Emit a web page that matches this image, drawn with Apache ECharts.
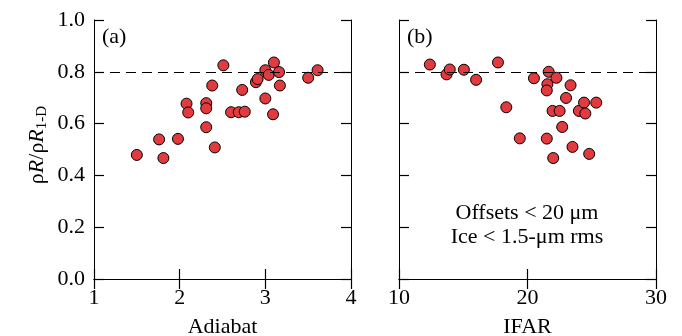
<!DOCTYPE html>
<html>
<head>
<meta charset="utf-8">
<script src="https://cdn.jsdelivr.net/npm/echarts@6/dist/echarts.min.js"></script>
<style>
  html, body { margin: 0; padding: 0; background: #fff; }
  #chart { width: 682px; height: 336px; }
</style>
</head>
<body>
<div id="chart"></div>
<script>
// panel (a): adiabat vs rhoR ratio
const adiabatX = [1.50, 1.76, 1.81, 1.98, 2.08, 2.10, 2.31, 2.31, 2.31, 2.38, 2.41, 2.51, 2.60, 2.69,
  2.76, 2.73, 2.89, 2.91, 3.00, 3.00, 3.04, 3.10, 3.09, 3.16, 3.17, 3.50, 3.61];
const adiabatY = [0.479, 0.539, 0.467, 0.541, 0.677, 0.643, 0.679, 0.659, 0.586, 0.747, 0.508, 0.825, 0.644, 0.644,
  0.646, 0.730, 0.760, 0.772, 0.806, 0.697, 0.788, 0.836, 0.636, 0.799, 0.747, 0.777, 0.806];

// panel (b): IFAR vs rhoR ratio
const ifarX = [12.4, 13.7, 13.95, 15.05, 16.0, 17.7, 18.35, 19.4, 20.5, 21.5, 21.55, 21.5, 21.65,
  21.95, 22.0, 22.25, 22.5, 22.7, 23.0, 23.35, 23.5, 24.0, 24.4, 24.5, 24.8, 25.35];
const ifarY = [0.828, 0.790, 0.809, 0.808, 0.769, 0.836, 0.663, 0.543, 0.775, 0.542, 0.752, 0.728, 0.800,
  0.649, 0.467, 0.777, 0.649, 0.587, 0.699, 0.748, 0.510, 0.649, 0.681, 0.639, 0.483, 0.681];

const refLevel = 0.8;
const yTickLabels = ['0.0', '0.2', '0.4', '0.6', '0.8', '1.0'];

const FONT = 'Liberation Serif';
const pair = (xs, ys) => xs.map((x, i) => [x, ys[i]]);

const chart = echarts.init(document.getElementById('chart'));

function xAx(grid, min, max, step, name, top) {
  return {
    type: 'value', gridIndex: grid, min: min, max: max, interval: step,
    position: top ? 'top' : 'bottom',
    name: top ? '' : name, nameLocation: 'middle', nameGap: 37,
    nameTextStyle: { fontFamily: FONT, fontSize: 22, color: '#000' },
    axisLine: { show: true, lineStyle: { color: '#000', width: 1 } },
    axisTick: { show: true, inside: true, length: 10, lineStyle: { color: '#000', width: 1.2 } },
    axisLabel: { show: !top, fontFamily: FONT, fontSize: 22, color: '#000', margin: 8 },
    splitLine: { show: false }
  };
}

function yAx(grid, labels, right) {
  return {
    type: 'value', gridIndex: grid, min: 0, max: 1, interval: 0.2,
    position: right ? 'right' : 'left',
    axisLine: { show: true, lineStyle: { color: '#000', width: 1 } },
    axisTick: { show: true, inside: true, length: 10, lineStyle: { color: '#000', width: 1.2 } },
    axisLabel: {
      show: labels, fontFamily: FONT, fontSize: 22, color: '#000', margin: 9,
      formatter: v => yTickLabels[Math.round(v / 0.2)]
    },
    splitLine: { show: false }
  };
}

function dots(xi, yi, data) {
  return {
    type: 'scatter', xAxisIndex: xi, yAxisIndex: yi, data: data,
    symbolSize: 11,
    itemStyle: { color: '#e23b3f', borderColor: '#000', borderWidth: 1, opacity: 1 },
    markLine: {
      silent: true, symbol: 'none', label: { show: false },
      lineStyle: { color: '#000', type: [10, 6], width: 1.2 },
      data: [{ yAxis: refLevel }]
    }
  };
}

chart.setOption({
  backgroundColor: '#fff',
  animation: false,
  grid: [
    { left: 94, right: 331, top: 20, bottom: 57, outerBoundsMode: 'none' },
    { left: 399, right: 26, top: 20, bottom: 57, outerBoundsMode: 'none' }
  ],
  xAxis: [
    xAx(0, 1, 4, 1, 'Adiabat', false),
    xAx(0, 1, 4, 1, '', true),
    xAx(1, 10, 30, 10, 'IFAR', false),
    xAx(1, 10, 30, 10, '', true)
  ],
  yAxis: [
    yAx(0, true, false),
    yAx(0, false, true),
    yAx(1, false, false),
    yAx(1, false, true)
  ],
  series: [
    dots(0, 0, pair(adiabatX, adiabatY)),
    dots(2, 2, pair(ifarX, ifarY))
  ],
  graphic: [
    { type: 'text', left: 102, top: 26, style: { text: '(a)', font: '22px ' + FONT, fill: '#000' } },
    { type: 'text', left: 407, top: 26, style: { text: '(b)', font: '22px ' + FONT, fill: '#000' } },
    {
      type: 'text', x: 527, y: 225,
      style: {
        text: 'Offsets < 20 μm\nIce < 1.5-μm rms', font: '22px ' + FONT, fill: '#000',
        align: 'center', verticalAlign: 'middle', lineHeight: 24
      }
    },
    {
      type: 'text', x: 37, y: 145, rotation: Math.PI / 2,
      style: {
        text: '{n|ρ}{i|R}{n|/ρ}{i|R}{s|1-D}',
        align: 'center', verticalAlign: 'middle',
        rich: {
          n: { fontFamily: FONT, fontSize: 22, color: '#000', lineHeight: 26 },
          i: { fontFamily: FONT, fontSize: 22, fontStyle: 'italic', color: '#000', lineHeight: 26 },
          s: { fontFamily: FONT, fontSize: 15, color: '#000', lineHeight: 26, verticalAlign: 'bottom', padding: [10, 0, 0, 0] }
        }
      }
    }
  ]
});
</script>
</body>
</html>
